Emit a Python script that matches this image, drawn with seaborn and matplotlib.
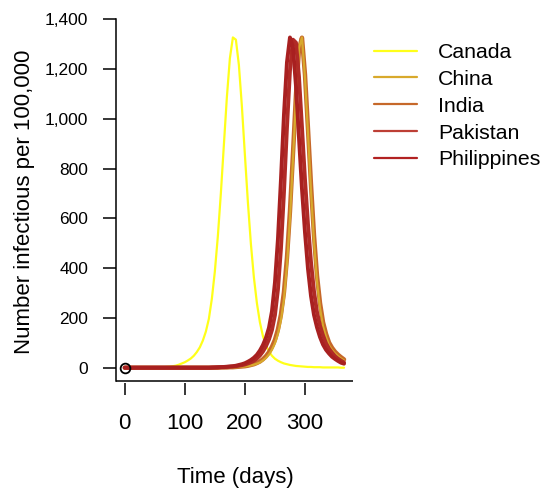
import matplotlib
matplotlib.use("Agg")
import matplotlib.pyplot as plt
from matplotlib.lines import Line2D
from matplotlib.ticker import FuncFormatter
import seaborn as sns

# Model output: infectious people per 100,000, sampled every 5 days over one year
days = list(range(0, 366, 5))

canada = [0, 0, 0, 0, 0, 0, 0, 0, 0, 1,
          1, 1, 2, 2, 3, 4, 6, 8, 12, 17,
          22, 29, 37, 48, 63, 82, 109, 145, 196, 277,
          387, 529, 701, 895, 1087, 1243, 1327, 1318, 1216, 1050,
          855, 664, 497, 362, 259, 182, 127, 90, 65, 48,
          36, 28, 22, 17, 14, 11, 9, 7, 6, 5,
          4, 3, 3, 2, 2, 2, 1, 1, 1, 1,
          1, 1, 0, 0]

china = [0, 0, 0, 0, 0, 0, 0, 0, 0, 0,
         0, 0, 0, 0, 0, 0, 0, 0, 0, 0,
         0, 0, 0, 0, 0, 0, 0, 0, 0, 0,
         0, 0, 0, 1, 1, 1, 2, 2, 3, 4,
         5, 7, 9, 12, 16, 21, 29, 39, 53, 72,
         98, 136, 191, 275, 410, 599, 834, 1085, 1284, 1327,
         1165, 941, 711, 506, 347, 240, 167, 123, 90, 71,
         57, 46, 37, 29]

india = [0, 0, 0, 0, 0, 0, 0, 0, 0, 0,
         0, 0, 0, 0, 0, 0, 0, 0, 0, 0,
         0, 0, 0, 0, 0, 0, 0, 0, 0, 0,
         0, 0, 1, 1, 1, 2, 2, 3, 4, 5,
         6, 8, 11, 14, 19, 25, 34, 46, 62, 84,
         112, 154, 214, 303, 441, 628, 858, 1097, 1280, 1326,
         1178, 960, 736, 532, 370, 260, 183, 136, 101, 80,
         64, 52, 42, 33]

pakistan = [0, 0, 0, 0, 0, 0, 0, 0, 0, 0,
            0, 0, 0, 0, 0, 0, 0, 0, 0, 0,
            0, 0, 0, 0, 0, 0, 0, 0, 0, 0,
            1, 1, 2, 2, 3, 4, 5, 6, 8, 10,
            13, 17, 22, 28, 37, 49, 65, 86, 113, 151,
            211, 314, 478, 703, 964, 1193, 1318, 1306, 1170, 967,
            757, 577, 425, 307, 224, 169, 130, 98, 76, 60,
            46, 36, 28, 21]

philippines = [0, 0, 0, 0, 0, 0, 0, 0, 0, 0,
               0, 0, 0, 0, 0, 0, 0, 0, 0, 0,
               0, 0, 0, 0, 0, 0, 0, 0, 0, 1,
               1, 2, 2, 3, 4, 5, 6, 8, 11, 14,
               18, 24, 31, 40, 52, 69, 91, 120, 160, 226,
               342, 517, 755, 1016, 1227, 1327, 1287, 1132, 924, 718,
               544, 397, 288, 212, 162, 123, 93, 72, 57, 44,
               35, 27, 20, 16]

countries = ["Canada", "China", "India", "Pakistan", "Philippines"]
colors = {
    "Canada": "#FFFF1A",
    "China": "#D8A92C",
    "India": "#C6682A",
    "Pakistan": "#BD3F35",
    "Philippines": "#B22222",
}
series = {"Canada": canada, "China": china, "India": india,
          "Pakistan": pakistan, "Philippines": philippines}

y_ticks = [0, 200, 400, 600, 800, 1000, 1200, 1400]
x_ticks = [0, 100, 200, 300]

sns.set_theme(style="white")
plt.rcParams["font.family"] = ["Liberation Sans", "DejaVu Sans"]
plt.rcParams.update({
    "text.color": "black",
    "axes.labelcolor": "black",
    "xtick.color": "black",
    "ytick.color": "black",
})

fig = plt.figure(figsize=(5.46, 4.88), dpi=100)
ax = fig.add_axes([0.2125, 0.2193, 0.4341, 0.7412])

# curves, thin first and heavy ones on top
sns.lineplot(x=days, y=series["Canada"], color=colors["Canada"], lw=1.6, ax=ax)
sns.lineplot(x=days, y=series["India"], color=colors["India"], lw=3.2, ax=ax)
sns.lineplot(x=days, y=series["China"], color=colors["China"], lw=1.6, ax=ax)
sns.lineplot(x=days, y=series["Pakistan"], color="#B02A26", lw=2.8, ax=ax)
sns.lineplot(x=days, y=series["Philippines"], color="#A82020", lw=2.8, ax=ax)

# starting point of the simulation
ax.plot(days[0], philippines[0], marker="o", ms=7, mfc="none", mec="black",
        mew=1.3, zorder=6, clip_on=False)

ax.set_xlim(-14.5, 380)
ax.set_ylim(-53.4, 1400)
ax.set_xticks(x_ticks)
ax.set_yticks(y_ticks)
ax.yaxis.set_major_formatter(FuncFormatter(lambda v, p: f"{int(v):,}"))

for side in ("top", "right"):
    ax.spines[side].set_visible(False)
ax.spines["left"].set_color("black")
ax.spines["left"].set_linewidth(1.1)
# x ticks sit slightly below the frame line
ax.spines["bottom"].set_position(("outward", 1.5))
ax.spines["bottom"].set_color("none")
ax.plot([0, 1], [0, 0], transform=ax.transAxes, color="black", lw=1.1,
        clip_on=False, solid_capstyle="butt")

ax.tick_params(axis="y", direction="out", length=9.4, width=1.1, color="black",
               labelcolor="black", labelsize=12.5, pad=10.5, left=True)
ax.tick_params(axis="x", direction="out", length=8.6, width=1.1, color="black",
               labelcolor="black", labelsize=16, pad=13, bottom=True)
ax.grid(False)

ax.set_xlabel("Time (days)", fontsize=16, color="black")
ax.set_ylabel("Number infectious per 100,000", fontsize=16, color="black")
ax.xaxis.set_label_coords(0.502, -0.237)
ax.yaxis.set_label_coords(-0.342, 0.496)

handles = [Line2D([0], [0], color=colors[c], lw=1.6) for c in countries]
leg = ax.legend(handles, countries, loc="upper left", bbox_to_anchor=(0.685, 0.912),
                bbox_transform=fig.transFigure, frameon=False, fontsize=15.3,
                handlelength=2.0, handletextpad=1.0, labelspacing=0.37,
                borderpad=0, borderaxespad=0)
for t in leg.get_texts():
    t.set_color("black")

fig.savefig("out.png", dpi=100, facecolor="white")
